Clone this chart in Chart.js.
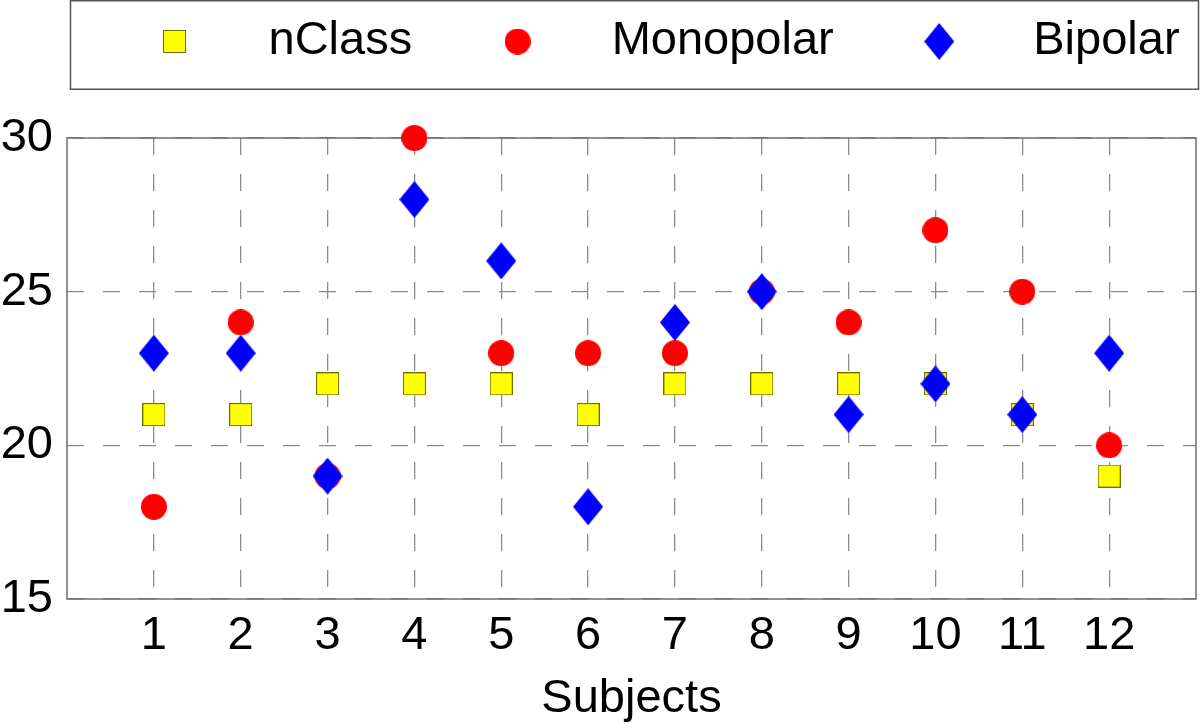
<!DOCTYPE html>
<html>
<head>
<meta charset="utf-8">
<script src="https://cdn.jsdelivr.net/npm/chart.js@4.4.1/dist/chart.umd.min.js"></script>
<style>
   html, body { margin: 0; padding: 0; background: #fff; }
   canvas { display: block; }
</style>
</head>
<body>
<canvas id="subjectsChart" width="1200" height="728"></canvas>
<script>
// #region Data
const subjects = [1, 2, 3, 4, 5, 6, 7, 8, 9, 10, 11, 12];
const nClassVals = [21, 21, 22, 22, 22, 21, 22, 22, 22, 22, 21, 19];
const monopolarVals = [18, 24, 19, 30, 23, 23, 23, 25, 24, 27, 25, 20];
const bipolarVals = [23, 23, 19, 28, 26, 18, 24, 25, 21, 22, 21, 23];
const yTickVals = [15, 20, 25, 30];
const seriesLabels = ['nClass', 'Monopolar', 'Bipolar'];
const xAxisTitle = 'Subjects';
// #endregion

const FONT_FAMILY = '"Liberation Sans", Arial, Helvetica, sans-serif';
const GRID_COLOR = '#8c8c8c';
const FRAME_COLOR = '#6e6e6e';

// ***********************
// Name:    makeMarker
// Purpose: Builds a small canvas used as a point style (chart and legend)
//    Args: w, h, drawFn
//  Return: canvas
// ***********************
function makeMarker(w, h, drawFn) {
   let cnv = document.createElement('canvas');
   cnv.width = w;
   cnv.height = h;
   drawFn(cnv.getContext('2d'), w, h);
   return cnv;
}

const squareMarker = makeMarker(23, 23, (ctx, w, h) => {
   ctx.fillStyle = '#ffff00';
   ctx.fillRect(0.5, 0.5, w - 1, h - 1);
   ctx.strokeStyle = '#707000';
   ctx.lineWidth = 1;
   ctx.strokeRect(0.5, 0.5, w - 1, h - 1);
});

const circleMarker = makeMarker(26, 26, (ctx, w, h) => {
   ctx.fillStyle = '#ff0000';
   ctx.beginPath();
   ctx.arc(w / 2, h / 2, w / 2, 0, Math.PI * 2);
   ctx.fill();
});

const diamondMarker = makeMarker(30, 37, (ctx, w, h) => {
   ctx.fillStyle = '#0000ff';
   ctx.beginPath();
   ctx.moveTo(w / 2, 0);
   ctx.lineTo(w, h / 2);
   ctx.lineTo(w / 2, h);
   ctx.lineTo(0, h / 2);
   ctx.closePath();
   ctx.fill();
});

function toPoints(vals) {
   return subjects.map((s, i) => ({ x: s, y: vals[i] }));
}

// frame around plot area + box around legend, and legend placement
const framePlugin = {
   id: 'framePlugin',
   afterLayout(chart) {
      chart.legend.left = 69;
      chart.legend.right = 1260;
      chart.legend.top = -17;
   },
   beforeDatasetsDraw(chart) {
      const { ctx, chartArea: a } = chart;
      ctx.save();
      ctx.strokeStyle = FRAME_COLOR;
      ctx.lineWidth = 1.5;
      ctx.strokeRect(a.left, a.top, a.right - a.left, a.bottom - a.top);
      ctx.restore();
   },
   afterDraw(chart) {
      const ctx = chart.ctx;
      ctx.save();
      ctx.strokeStyle = '#555555';
      ctx.lineWidth = 1.5;
      ctx.strokeRect(70.5, 0.75, 1128, 88.5);
      ctx.restore();
   }
};

Chart.defaults.color = '#000';
Chart.defaults.font.family = FONT_FAMILY;

const datasets = [
   { label: seriesLabels[0], data: toPoints(nClassVals), pointStyle: squareMarker, pointRadius: 12, order: 3, clip: false },
   { label: seriesLabels[1], data: toPoints(monopolarVals), pointStyle: circleMarker, pointRadius: 13, order: 2, clip: false },
   { label: seriesLabels[2], data: toPoints(bipolarVals), pointStyle: diamondMarker, pointRadius: 15, order: 1, clip: false }
];

const config = {
   type: 'scatter',
   data: { datasets: datasets },
   options: {
      responsive: false,
      animation: false,
      events: [],
      layout: { autoPadding: false, padding: { top: 46, right: 4, left: 0, bottom: 0 } },
      plugins: {
         tooltip: { enabled: false },
         legend: {
            position: 'top',
            align: 'start',
            labels: {
               usePointStyle: true,
               pointStyleWidth: 141,
               padding: 35,
               color: '#000',
               font: { size: 47, family: FONT_FAMILY },
               sort: (a, b) => a.datasetIndex - b.datasetIndex
            }
         }
      },
      scales: {
         x: {
            type: 'linear',
            min: 0,
            max: 13,
            afterBuildTicks: (scale) => { scale.ticks = subjects.map(v => ({ value: v })); },
            afterFit: (scale) => {
               scale.height = 129;
               scale.paddingLeft = 0;
               scale.paddingRight = 0;
            },
            grid: { color: GRID_COLOR, lineWidth: 1.3, drawTicks: false },
            border: { display: false, dash: [17, 19] },
            ticks: { color: '#000', font: { size: 47 }, padding: 9, maxRotation: 0, autoSkip: false },
            title: {
               display: true,
               text: xAxisTitle,
               color: '#000',
               font: { size: 47 },
               padding: { top: 6, bottom: 1 }
            }
         },
         y: {
            type: 'linear',
            min: 15,
            max: 30,
            afterBuildTicks: (scale) => { scale.ticks = yTickVals.map(v => ({ value: v })); },
            afterFit: (scale) => { scale.width = 67; },
            grid: { color: GRID_COLOR, lineWidth: 1.3, drawTicks: false },
            border: { display: false, dash: [17, 19] },
            ticks: { color: '#000', font: { size: 47 }, padding: 14 }
         }
      }
   },
   plugins: [framePlugin]
};

const myChart = new Chart(document.getElementById('subjectsChart'), config);
</script>
</body>
</html>
